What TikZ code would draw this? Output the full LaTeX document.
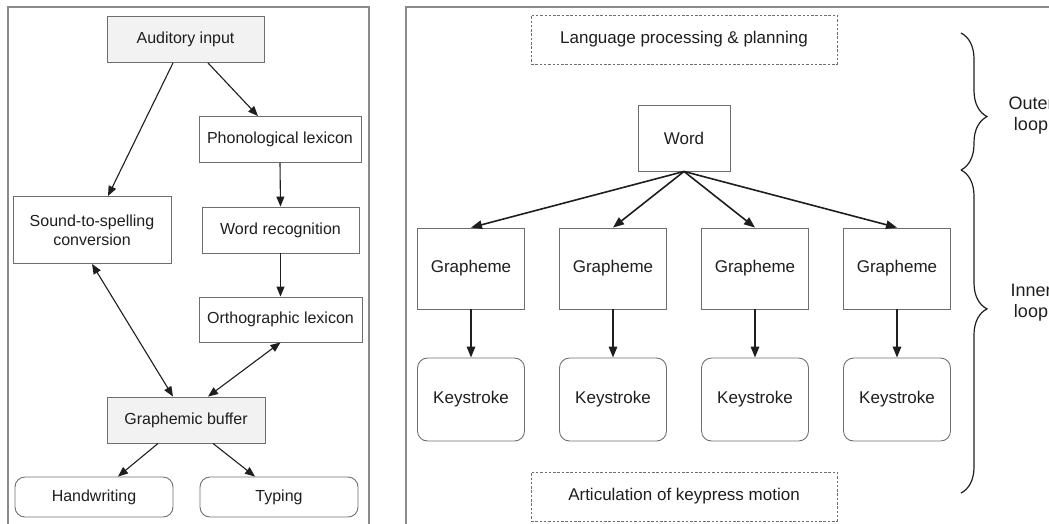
\documentclass[tikz,border=0pt]{standalone}
\usepackage{fontspec}
\setmainfont{Liberation Sans}
\usetikzlibrary{arrows.meta,decorations.pathreplacing}
\definecolor{framegray}{HTML}{8A8A8A}
\definecolor{boxgray}{HTML}{6E6E6E}
\definecolor{fillgray}{HTML}{F2F2F2}
\definecolor{inkdark}{HTML}{1E1E1E}
\begin{document}
\begin{tikzpicture}[x=1pt,y=-1pt,
  panel/.style={draw=framegray,line width=2pt},
  lbox/.style={draw=boxgray,line width=0.9pt,inner sep=0pt,align=center,
    text=inkdark,font=\fontsize{16}{19}\selectfont},
  shaded/.style={lbox,fill=fillgray},
  outbox/.style={lbox,rounded corners=10pt},
  rbox/.style={draw=boxgray,line width=0.9pt,inner sep=0pt,align=center,
    text=inkdark,font=\fontsize{17}{20}\selectfont},
  keybox/.style={rbox,rounded corners=10pt},
  plan/.style={rbox,dash pattern=on 2.5pt off 1.8pt,draw=boxgray},
  larrow/.style={-{Triangle[length=10pt,width=8pt]},line width=1.1pt,draw=inkdark},
  biarrow/.style={{Triangle[length=10pt,width=8pt]}-{Triangle[length=10pt,width=8pt]},line width=1.1pt,draw=inkdark},
  rarrow/.style={-{Triangle[length=11pt,width=8.5pt]},line width=1.6pt,draw=inkdark},
  curly/.style={decorate,decoration={brace,amplitude=26pt,aspect=#1},line width=1.2pt,draw=inkdark},
  looplabel/.style={align=center,text=inkdark,font=\fontsize{18}{21}\selectfont}
]
\useasboundingbox (0,0) rectangle (1049,523);

% panel frames
\draw[panel] (8,540) -- (8,7) -- (369,7) -- (369,540);
\draw[panel] (406,540) -- (406,7) -- (1070,7);

% ---- left panel: spelling model ----
\node[shaded,minimum width=157pt,minimum height=46pt] (aud) at (185.5,39.5) {Auditory input};
\node[lbox,minimum width=162pt,minimum height=46pt] (phon) at (280,139.5) {Phonological lexicon};
\node[lbox,minimum width=158pt,minimum height=67pt] (s2s) at (92,230) {Sound-to-spelling\\conversion};
\node[lbox,minimum width=157pt,minimum height=46pt] (wrec) at (280.5,230) {Word recognition};
\node[lbox,minimum width=163pt,minimum height=45pt] (orth) at (280.5,319.5) {Orthographic lexicon};
\node[shaded,minimum width=158pt,minimum height=46pt] (gbuf) at (186,420) {Graphemic buffer};
\node[outbox,minimum width=158pt,minimum height=40pt] (hand) at (94,497) {Handwriting};
\node[outbox,minimum width=158pt,minimum height=40pt] (typ) at (279,497) {Typing};

\draw[larrow] ([xshift=-12.5pt]aud.south) -- ([xshift=16pt]s2s.north);
\draw[larrow] ([xshift=22.5pt]aud.south) -- ([xshift=-22pt]phon.north);
\draw[larrow] (phon.south) -- (wrec.north);
\draw[larrow] (wrec.south) -- (orth.north);
\draw[biarrow] (s2s.south) -- ([xshift=-13pt]gbuf.north);
\draw[biarrow] (orth.south) -- ([xshift=22pt]gbuf.north);
\draw[larrow] ([xshift=-28pt]gbuf.south) -- ([xshift=24pt]hand.north);
\draw[larrow] ([xshift=27pt]gbuf.south) -- ([xshift=-24pt]typ.north);

% ---- right panel: typing loops ----
\node[plan,minimum width=306pt,minimum height=49pt] (lang) at (684,39.5) {Language processing \& planning};
\node[rbox,minimum width=92pt,minimum height=66pt] (word) at (684,138) {Word};
\foreach \i/\x in {1/471,2/613,3/755,4/897}{
  \node[rbox,minimum width=107pt,minimum height=81pt] (g\i) at (\x,268.5) {Grapheme};
  \node[keybox,minimum width=107pt,minimum height=83pt] (k\i) at (\x,399.5) {Keystroke};
  \draw[rarrow] (word.south) -- (g\i.north);
  \draw[rarrow] (g\i.south) -- (k\i.north);
}
\node[plan,minimum width=306pt,minimum height=49pt] (artic) at (684,496.5) {Articulation of keypress motion};

% loop braces
\coordinate (bt) at (961,33);
\coordinate (bm) at (961,170);
\coordinate (bb) at (961,493);
\draw[curly=0.61] (bt) -- (bm);
\draw[curly=0.43] (bm) -- (bb);
\node[looplabel] (outer) at (1031,116) {Outer\\loop};
\node[looplabel] (inner) at (1031,303) {Inner\\loop};
\end{tikzpicture}
\end{document}
